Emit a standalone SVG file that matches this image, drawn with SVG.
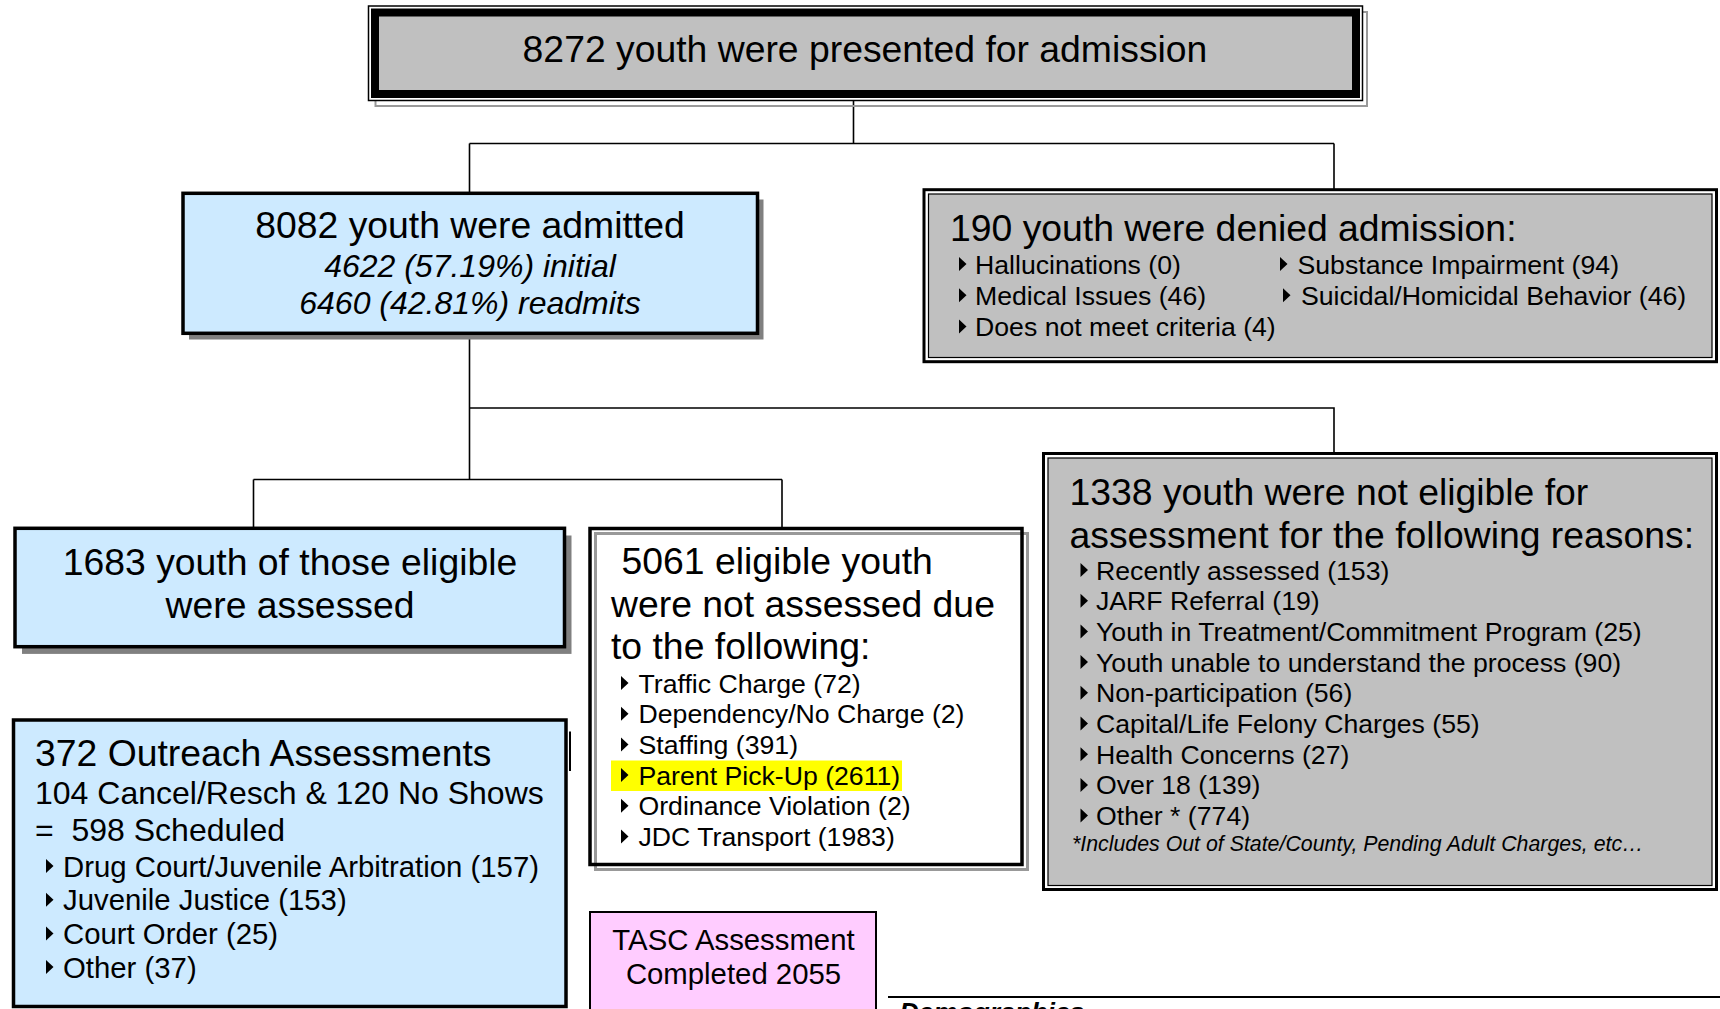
<svg xmlns="http://www.w3.org/2000/svg" width="1720" height="1009" viewBox="0 0 1720 1009">
<style>
text { font-family: "Liberation Sans", Arial, sans-serif; fill: #000; }
.t37 { font-size: 37.33px; }
.t32 { font-size: 32px; }
.t29 { font-size: 29.33px; }
.t27 { font-size: 26.67px; }
.t21 { font-size: 21.33px; }
.it { font-style: italic; }
.mid { text-anchor: middle; }
.pre { white-space: pre; }
.conn { stroke: #000; stroke-width: 1.6; fill: none; }
.blue { fill: #cdeaff; stroke: #000; stroke-width: 3.5; }
.shadow { fill: #808080; }
.grayfill { fill: #c0c0c0; stroke: #000; stroke-width: 1.2; }
.outer { fill: #fff; stroke: #000; stroke-width: 3; }
.tri { fill: #000; }
</style>
<defs>
<path id="tri" d="M0,-7 L7.5,0 L0,7 Z"/>
</defs>

<g id="connectors" class="conn">
<path d="M853.5,100 V143.5 M469.5,143.5 H1334 M469.5,143.5 V192 M1334,143.5 V189"/>
<path d="M469.5,335 V479.5 M469.5,408 H1334 V453 M253.5,479.5 H782 M253.5,479.5 V527 M782,479.5 V527"/>
</g>

<g id="node-presented">
<rect x="375.5" y="12" width="991.5" height="94" fill="none" stroke="#999" stroke-width="2"/>
<rect x="368.5" y="6" width="994" height="94.5" fill="#fff" stroke="#000" stroke-width="1.5"/>
<rect x="375" y="12.5" width="981" height="81.5" fill="#c0c0c0" stroke="#000" stroke-width="8"/>
<text x="865" y="62" class="t37 mid">8272 youth were presented for admission</text>
</g>

<g id="node-admitted">
<rect x="189" y="199.5" width="574.5" height="140" class="shadow"/>
<rect x="183" y="193.3" width="574.5" height="140" class="blue"/>
<text x="470" y="238" class="t37 mid">8082 youth were admitted</text>
<text x="470" y="276.5" class="t32 it mid">4622 (57.19%) initial</text>
<text x="470" y="313.5" class="t32 it mid">6460 (42.81%) readmits</text>
</g>

<g id="node-denied">
<rect x="924" y="189.7" width="792.5" height="172" class="outer"/>
<rect x="928.5" y="194" width="783.5" height="163.5" class="grayfill"/>
<text x="950" y="240.5" class="t37">190 youth were denied admission:</text>
<use href="#tri" x="959" y="264" class="tri"/>
<text x="975" y="273.5" class="t27">Hallucinations (0)</text>
<use href="#tri" x="959" y="295.2" class="tri"/>
<text x="975" y="304.7" class="t27">Medical Issues (46)</text>
<use href="#tri" x="959" y="326.4" class="tri"/>
<text x="975" y="335.9" class="t27">Does not meet criteria (4)</text>
<use href="#tri" x="1280" y="264" class="tri"/>
<text x="1297.5" y="273.5" class="t27">Substance Impairment (94)</text>
<use href="#tri" x="1283" y="295.2" class="tri"/>
<text x="1301" y="304.7" class="t27">Suicidal/Homicidal Behavior (46)</text>
</g>

<g id="node-assessed">
<rect x="22" y="535.5" width="549.5" height="118.4" class="shadow"/>
<rect x="15" y="528.3" width="549.5" height="118.4" class="blue"/>
<text x="290" y="575" class="t37 mid">1683 youth of those eligible</text>
<text x="290" y="617.5" class="t37 mid">were assessed</text>
</g>

<g id="node-not-assessed">
<rect x="590" y="528.5" width="432" height="336" fill="#fff"/>
<rect x="595.5" y="533.5" width="432" height="336" fill="none" stroke="#999" stroke-width="3"/>
<rect x="590" y="528.5" width="432" height="336" fill="none" stroke="#000" stroke-width="3.5"/>
<rect x="611" y="760.5" width="291" height="30.5" fill="#ffff00"/>
<text x="621.5" y="573.5" class="t37">5061 eligible youth</text>
<text x="611" y="616.5" class="t37">were not assessed due</text>
<text x="611" y="659" class="t37">to the following:</text>
<use href="#tri" x="621" y="683" class="tri"/>
<text x="638.5" y="692.5" class="t27">Traffic Charge (72)</text>
<use href="#tri" x="621" y="713.7" class="tri"/>
<text x="638.5" y="723.2" class="t27">Dependency/No Charge (2)</text>
<use href="#tri" x="621" y="744.4" class="tri"/>
<text x="638.5" y="753.9" class="t27">Staffing (391)</text>
<use href="#tri" x="621" y="775.1" class="tri"/>
<text x="638.5" y="784.6" class="t27">Parent Pick-Up (2611)</text>
<use href="#tri" x="621" y="805.8" class="tri"/>
<text x="638.5" y="815.3" class="t27">Ordinance Violation (2)</text>
<use href="#tri" x="621" y="836.5" class="tri"/>
<text x="638.5" y="846" class="t27">JDC Transport (1983)</text>
</g>

<g id="node-not-eligible">
<rect x="1043.5" y="453.5" width="673" height="436" class="outer"/>
<rect x="1048" y="458" width="664" height="427.5" class="grayfill"/>
<text x="1069.5" y="504.6" class="t37">1338 youth were not eligible for</text>
<text x="1069.5" y="547.5" class="t37">assessment for the following reasons:</text>
<use href="#tri" x="1080.5" y="570" class="tri"/>
<text x="1096" y="579.5" class="t27">Recently assessed (153)</text>
<use href="#tri" x="1080.5" y="600.7" class="tri"/>
<text x="1096" y="610.2" class="t27">JARF Referral (19)</text>
<use href="#tri" x="1080.5" y="631.4" class="tri"/>
<text x="1096" y="640.9" class="t27">Youth in Treatment/Commitment Program (25)</text>
<use href="#tri" x="1080.5" y="662.1" class="tri"/>
<text x="1096" y="671.6" class="t27">Youth unable to understand the process (90)</text>
<use href="#tri" x="1080.5" y="692.8" class="tri"/>
<text x="1096" y="702.3" class="t27">Non-participation (56)</text>
<use href="#tri" x="1080.5" y="723.5" class="tri"/>
<text x="1096" y="733" class="t27">Capital/Life Felony Charges (55)</text>
<use href="#tri" x="1080.5" y="754.2" class="tri"/>
<text x="1096" y="763.7" class="t27">Health Concerns (27)</text>
<use href="#tri" x="1080.5" y="784.9" class="tri"/>
<text x="1096" y="794.4" class="t27">Over 18 (139)</text>
<use href="#tri" x="1080.5" y="815.6" class="tri"/>
<text x="1096" y="825.1" class="t27">Other * (774)</text>
<text x="1072" y="850.5" class="t21 it">*Includes Out of State/County, Pending Adult Charges, etc…</text>
</g>

<g id="node-outreach">
<rect x="13.5" y="720" width="552.5" height="286.5" class="blue"/>
<line x1="570" y1="731.5" x2="570" y2="771" stroke="#000" stroke-width="2"/>
<text x="35" y="766" class="t37">372 Outreach Assessments</text>
<text x="35" y="803.5" class="t32">104 Cancel/Resch &amp; 120 No Shows</text>
<text x="35" y="841" class="t32 pre">=  598 Scheduled</text>
<use href="#tri" x="46" y="866" class="tri"/>
<text x="63" y="876.5" class="t29">Drug Court/Juvenile Arbitration (157)</text>
<use href="#tri" x="46" y="899.7" class="tri"/>
<text x="63" y="910.2" class="t29">Juvenile Justice (153)</text>
<use href="#tri" x="46" y="933.4" class="tri"/>
<text x="63" y="943.9" class="t29">Court Order (25)</text>
<use href="#tri" x="46" y="967.1" class="tri"/>
<text x="63" y="977.6" class="t29">Other (37)</text>
</g>

<g id="node-tasc">
<rect x="590" y="912" width="286" height="110" fill="#ffccff" stroke="#000" stroke-width="2"/>
<text x="733.5" y="950" class="t29 mid">TASC Assessment</text>
<text x="733.5" y="983.7" class="t29 mid">Completed 2055</text>
</g>

<g id="demographics">
<line x1="888" y1="997" x2="1720" y2="997" stroke="#000" stroke-width="2"/>
<text x="899.5" y="1021" class="t27" font-weight="bold" font-style="italic">Demographics</text>
</g>
</svg>
